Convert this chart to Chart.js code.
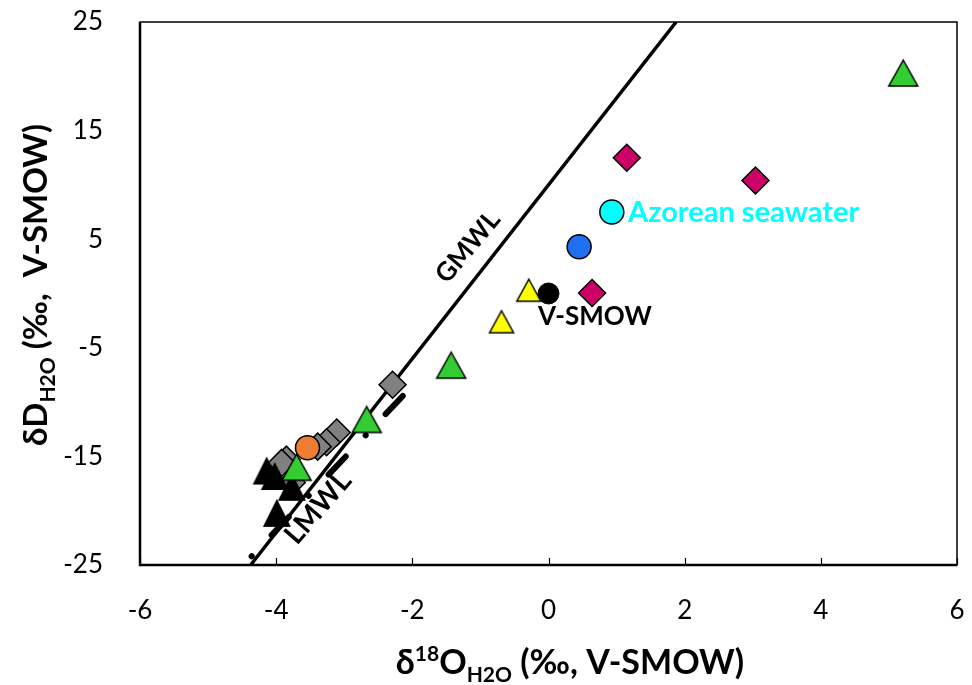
<!DOCTYPE html>
<html>
<head>
<meta charset="utf-8">
<script src="https://cdn.jsdelivr.net/npm/chart.js@4"></script>
<style>
  html, body { margin: 0; padding: 0; background: #fff; }
</style>
</head>
<body>
<canvas id="isoChart" width="972" height="685"></canvas>
<script>
// axes
const xTicks = [-6, -4, -2, 0, 2, 4, 6];
const yTicks = [-25, -15, -5, 5, 15, 25];

// samples (d18O, dD)
const greenX = [5.21, -1.43, -2.67, -3.70];
const greenY = [20.3, -6.6, -11.6, -16.0];
const yellowX = [-0.29, -0.69];
const yellowY = [0.3, -2.6];
const blackTriX = [-4.14, -4.02, -3.77, -3.99];
const blackTriY = [-16.3, -16.8, -17.8, -20.2];
const grayX = [-2.29, -3.11, -3.26, -3.39, -3.85, -3.92, -3.77];
const grayY = [-8.4, -12.8, -13.7, -14.1, -15.3, -15.6, -17.4];
const magentaX = [1.15, 3.04, 0.64];
const magentaY = [12.5, 10.4, 0.05];
const orangeX = [-3.54];
const orangeY = [-14.2];
const blueX = [0.45];
const blueY = [4.3];
const seawaterX = [0.93];
const seawaterY = [7.5];
const vsmowX = [0];
const vsmowY = [0];

// meteoric water lines (end points)
const gmwlX = [-4.375, 1.875];
const gmwlY = [-25, 25];
const lmwlX = [-4.36, -1.88];
const lmwlY = [-24.2, -7.7];

const FONT = "Lato, 'Open Sans', sans-serif";

function pts(xs, ys) {
  return xs.map((x, i) => ({ x: x, y: ys[i] }));
}

// triangle marker centred in its box, like the spreadsheet ones
function triangle(fill, w, h, stroke) {
  const c = document.createElement('canvas');
  c.width = w + 4; c.height = h + 4;
  const g = c.getContext('2d');
  g.beginPath();
  g.moveTo(c.width / 2, 2);
  g.lineTo(w + 2, h + 2);
  g.lineTo(2, h + 2);
  g.closePath();
  g.fillStyle = fill;
  g.fill();
  if (stroke) {
    g.lineWidth = 1.5;
    g.strokeStyle = stroke;
    g.stroke();
  }
  return c;
}

function richText(ctx, parts, cx, baseline) {
  let total = 0;
  parts.forEach(p => {
    ctx.font = 'bold ' + p.size + 'px ' + FONT;
    p.w = ctx.measureText(p.t).width;
    total += p.w;
  });
  let x = cx - total / 2;
  ctx.textAlign = 'left';
  ctx.textBaseline = 'alphabetic';
  parts.forEach(p => {
    ctx.font = 'bold ' + p.size + 'px ' + FONT;
    ctx.fillText(p.t, x, baseline + (p.dy || 0));
    x += p.w;
  });
}

function noOverflow(s) {
  s.paddingTop = 0; s.paddingBottom = 0;
  s.paddingLeft = 0; s.paddingRight = 0;
}

const decorations = {
  id: 'decorations',
  afterDraw(chart) {
    const ctx = chart.ctx;
    const a = chart.chartArea;
    const xs = chart.scales.x;
    ctx.save();

    // frame
    ctx.strokeStyle = '#000';
    ctx.lineWidth = 1.5;
    ctx.strokeRect(a.left, a.top, a.right - a.left, a.bottom - a.top);
    ctx.lineWidth = 2.5;
    ctx.beginPath();
    ctx.moveTo(a.left, a.top);
    ctx.lineTo(a.left, a.bottom);
    ctx.lineTo(a.right, a.bottom);
    ctx.stroke();

    // inward x ticks
    ctx.lineWidth = 1.2;
    xTicks.forEach(v => {
      const px = Math.round(xs.getPixelForValue(v)) + 0.5;
      ctx.beginPath();
      ctx.moveTo(px, a.bottom);
      ctx.lineTo(px, a.bottom - 7);
      ctx.stroke();
    });

    // axis titles
    ctx.fillStyle = '#000';
    richText(ctx, [
      { t: 'δ', size: 34 },
      { t: '18', size: 21, dy: -13 },
      { t: 'O', size: 34 },
      { t: 'H2O', size: 21, dy: 8 },
      { t: ' (‰, V-SMOW)', size: 34 }
    ], 570, 674);

    ctx.save();
    ctx.translate(0, 285);
    ctx.rotate(-Math.PI / 2);
    richText(ctx, [
      { t: 'δD', size: 33 },
      { t: 'H2O', size: 21, dy: 8 },
      { t: ' (‰,  V-SMOW)', size: 33 }
    ], 0, 47);
    ctx.restore();

    // line labels
    ctx.textAlign = 'center';
    ctx.textBaseline = 'middle';
    ctx.font = 'bold 26px ' + FONT;
    ctx.save();
    ctx.translate(468, 247);
    ctx.rotate(-50 * Math.PI / 180);
    ctx.fillText('GMWL', 0, 0);
    ctx.restore();

    ctx.font = 'bold 28px ' + FONT;
    ctx.save();
    ctx.translate(318, 508);
    ctx.rotate(-49 * Math.PI / 180);
    ctx.fillText('LMWL', 0, 0);
    ctx.restore();

    // point labels
    ctx.font = 'bold 26px ' + FONT;
    ctx.textAlign = 'left';
    ctx.fillStyle = '#000';
    ctx.fillText('V-SMOW', 538, 317);
    ctx.fillStyle = '#00FFFF';
    ctx.font = 'bold 29px ' + FONT;
    ctx.fillText('Azorean seawater', 628, 213);

    ctx.restore();
  }
};

const ctx = document.getElementById('isoChart').getContext('2d');

const chart = new Chart(ctx, {
  type: 'scatter',
  data: {
    datasets: [
      { label: 'green', data: pts(greenX, greenY), pointStyle: triangle('#33CC33', 29, 26, '#000'), order: 1 },
      { label: 'orange', data: pts(orangeX, orangeY), pointStyle: 'circle', pointRadius: 12, backgroundColor: '#ED7D31', borderColor: '#000', borderWidth: 1.5, order: 2 },
      { label: 'seawater', data: pts(seawaterX, seawaterY), pointStyle: 'circle', pointRadius: 12, backgroundColor: '#00FFFF', borderColor: '#000', borderWidth: 1.5, order: 2 },
      { label: 'blue', data: pts(blueX, blueY), pointStyle: 'circle', pointRadius: 12, backgroundColor: '#1F6FEF', borderColor: '#000', borderWidth: 1.5, order: 2 },
      { label: 'vsmow', data: pts(vsmowX, vsmowY), pointStyle: 'circle', pointRadius: 10.5, backgroundColor: '#000', borderColor: '#000', borderWidth: 1, order: 2 },
      { label: 'yellow', data: pts(yellowX, yellowY), pointStyle: triangle('#FFFF00', 24, 22, '#000'), order: 2 },
      { label: 'magenta', data: pts(magentaX, magentaY), pointStyle: 'rectRot', pointRadius: 13.5, backgroundColor: '#CC0066', borderColor: '#000', borderWidth: 1.5, order: 2 },
      { label: 'black', data: pts(blackTriX, blackTriY), pointStyle: triangle('#000', 28, 28, null), order: 3 },
      { label: 'gray', data: pts(grayX, grayY), pointStyle: 'rectRot', pointRadius: 13.5, backgroundColor: '#808080', borderColor: '#000', borderWidth: 1.5, order: 4 },
      { label: 'LMWL', type: 'line', data: pts(lmwlX, lmwlY), showLine: true, pointRadius: 0,
        borderColor: '#000', borderWidth: 6, borderDash: [0.1, 29, 25, 29], borderCapStyle: 'round', order: 5 },
      { label: 'GMWL', type: 'line', data: pts(gmwlX, gmwlY), showLine: true, pointRadius: 0,
        borderColor: '#000', borderWidth: 3.5, order: 6 }
    ]
  },
  options: {
    responsive: false,
    animation: false,
    devicePixelRatio: 1,
    layout: { padding: { left: 0, top: 22, right: 13, bottom: 0 } },
    plugins: { legend: { display: false }, tooltip: { enabled: false } },
    elements: { point: { hoverRadius: 0 } },
    scales: {
      x: {
        type: 'linear', min: -6, max: 6,
        afterBuildTicks: s => { s.ticks = xTicks.map(v => ({ value: v })); },
        afterFit: s => { s.height = 120; noOverflow(s); },
        grid: { display: false, drawTicks: false },
        border: { display: false },
        ticks: { padding: 30, color: '#000', font: { family: FONT, size: 26 } }
      },
      y: {
        type: 'linear', min: -25, max: 25,
        afterBuildTicks: s => { s.ticks = yTicks.map(v => ({ value: v })); },
        afterFit: s => { s.width = 140; noOverflow(s); },
        grid: { display: false, drawTicks: false },
        border: { display: false },
        ticks: { padding: 37, color: '#000', font: { family: FONT, size: 26 } }
      }
    }
  },
  plugins: [decorations]
});
</script>
</body>
</html>
